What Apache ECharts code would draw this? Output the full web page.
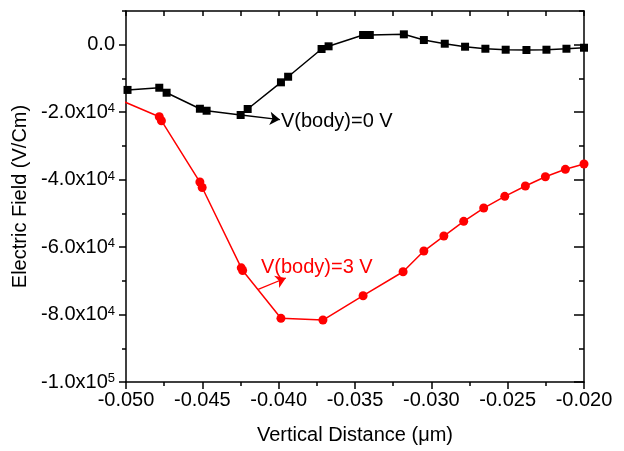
<!DOCTYPE html>
<html>
<head>
<meta charset="utf-8">
<script src="https://cdn.jsdelivr.net/npm/echarts@6/dist/echarts.min.js"></script>
<style>
html,body{margin:0;padding:0;background:#fff;}
#c{width:624px;height:451px;}
</style>
</head>
<body>
<div id="c"></div>
<script>
// ---- data ----
const blackX = [-0.04990,-0.04782,-0.04734,-0.04516,-0.04472,-0.04249,-0.04203,-0.03985,-0.03938,-0.03719,-0.03673,-0.03447,-0.03403,-0.03180,-0.03049,-0.02912,-0.02779,-0.02646,-0.02513,-0.02377,-0.02246,-0.02115,-0.02000];
const blackY = [-13400,-12750,-14230,-18980,-19570,-20840,-19060,-11150,-9490,-1270,-470,2880,2880,3080,1390,300,-590,-1190,-1480,-1570,-1480,-1190,-890];
const redX = [-0.0505,-0.04782,-0.04768,-0.04516,-0.04501,-0.04245,-0.04236,-0.03985,-0.03710,-0.03447,-0.03185,-0.03049,-0.02918,-0.02788,-0.02657,-0.02519,-0.02384,-0.02253,-0.02122,-0.02000];
const redY = [-16200,-21350,-22530,-40710,-42340,-66150,-66950,-81120,-81630,-74420,-67310,-61170,-56720,-52360,-48420,-44950,-41900,-39140,-36940,-35370];
const yMajorTicks = [-100000,-80000,-60000,-40000,-20000,0];
const yMinorTicks = [-90000,-70000,-50000,-30000,-10000,10000];
const seriesNames = ['V(body)=0 V','V(body)=3 V'];
// annotation anchors in data coordinates
const blackArrow = [[-0.04247,-20840],[-0.03992,-22180]];
const blackLabelAt = [-0.03985,-22900];
const redArrow = [[-0.04134,-72530],[-0.03953,-69170]];
const redLabelAt = [-0.04116,-66060];

const FONT = 'Liberation Sans, Arial, Helvetica, sans-serif';
const black = '#000000', red = '#ff0000';

function zip(a,b){return a.map((v,i)=>[v,b[i]]);}
function yFmt(v){
  if (v === 0) return '{b|0.0}';
  const e = Math.floor(Math.log10(Math.abs(v)) + 1e-9);
  const m = v / Math.pow(10, e);
  return '{b|' + m.toFixed(1) + 'x10}{s|' + e + '}';
}

const chart = echarts.init(document.getElementById('c'), null, {renderer:'canvas'});
const axLine = {show:true, onZero:false, lineStyle:{color:black, width:1.5}};
const tickStyle = {color:black, width:1.5};
const yMin = -100000, yMax = 10000, xMin = -0.05, xMax = -0.02;

function arrowMark(color, pts){
  return {silent:true, symbol:['none','arrow'], symbolSize:[10,10], symbolKeepAspect:false,
    lineStyle:{color:color, width:1.3, type:'solid'}, itemStyle:{color:color},
    label:{show:false}, emphasis:{disabled:true},
    data:[[{coord:pts[0], symbol:'none'},{coord:pts[1], symbol:'arrow', symbolSize:10}]]};
}

chart.setOption({
  animation:false,
  backgroundColor:'#fff',
  textStyle:{fontFamily:FONT},
  grid:{left:126, right:40, top:11, bottom:69, containLabel:false, outerBoundsMode:'none'},
  xAxis:[
    {type:'value', position:'bottom', min:xMin, max:xMax, interval:0.005,
     axisLine:axLine,
     axisTick:{show:true, inside:false, length:7, lineStyle:tickStyle},
     minorTick:{show:true, splitNumber:2, length:4, lineStyle:tickStyle},
     axisLabel:{fontSize:20, color:black, margin:8, fontFamily:FONT, formatter:v=>v.toFixed(3)},
     splitLine:{show:false}, minorSplitLine:{show:false},
     name:'Vertical Distance (\u03bcm)', nameLocation:'middle', nameGap:43,
     nameTextStyle:{fontSize:20, color:black, fontFamily:FONT}},
    {type:'value', position:'top', min:xMin, max:xMax, interval:0.0025,
     axisLine:axLine,
     axisTick:{show:true, inside:true, length:5, lineStyle:tickStyle},
     axisLabel:{show:false}, splitLine:{show:false}}
  ],
  yAxis:[
    {type:'value', position:'left', min:yMin, max:yMax,
     axisLine:axLine,
     axisTick:{show:true, inside:false, length:7, customValues:yMajorTicks, lineStyle:tickStyle},
     axisLabel:{show:true, customValues:yMajorTicks, margin:11, formatter:yFmt,
       rich:{b:{fontSize:20, color:black, fontFamily:FONT, verticalAlign:'bottom'},
             s:{fontSize:13, color:black, fontFamily:FONT, verticalAlign:'top', padding:[0,0,4,0]}}},
     splitLine:{show:false},
     name:'Electric Field (V/Cm)', nameLocation:'middle', nameRotate:90, nameGap:96,
     nameTextStyle:{fontSize:20, color:black, fontFamily:FONT}},
    {type:'value', position:'left', min:yMin, max:yMax,
     axisLine:{show:false},
     axisTick:{show:true, inside:false, length:4, customValues:yMinorTicks, lineStyle:tickStyle},
     axisLabel:{show:false}, splitLine:{show:false}},
    {type:'value', position:'right', min:yMin, max:yMax,
     axisLine:axLine,
     axisTick:{show:true, inside:true, length:10, customValues:yMajorTicks, lineStyle:tickStyle},
     axisLabel:{show:false}, splitLine:{show:false}},
    {type:'value', position:'right', min:yMin, max:yMax,
     axisLine:{show:false},
     axisTick:{show:true, inside:true, length:5, customValues:yMinorTicks, lineStyle:tickStyle},
     axisLabel:{show:false}, splitLine:{show:false}}
  ],
  series:[
    {name:seriesNames[0], type:'line', xAxisIndex:0, yAxisIndex:0, data:zip(blackX,blackY),
     symbol:'rect', symbolSize:8, showAllSymbol:true, clip:true,
     lineStyle:{color:black, width:1.5}, itemStyle:{color:black},
     markLine:arrowMark(black, blackArrow),
     markPoint:{silent:true, symbol:'circle', symbolSize:0,
       label:{show:true, position:'right', distance:0, fontSize:20, color:black, fontFamily:FONT, formatter:seriesNames[0]},
       data:[{coord:blackLabelAt}]}
    },
    {name:seriesNames[1], type:'line', xAxisIndex:0, yAxisIndex:0, data:zip(redX,redY),
     symbol:'circle', symbolSize:9, showAllSymbol:true, clip:true,
     lineStyle:{color:red, width:1.5}, itemStyle:{color:red},
     markLine:arrowMark(red, redArrow),
     markPoint:{silent:true, symbol:'circle', symbolSize:0,
       label:{show:true, position:'right', distance:0, fontSize:20, color:red, fontFamily:FONT, formatter:seriesNames[1]},
       data:[{coord:redLabelAt}]}
    }
  ]
});
</script>
</body>
</html>
